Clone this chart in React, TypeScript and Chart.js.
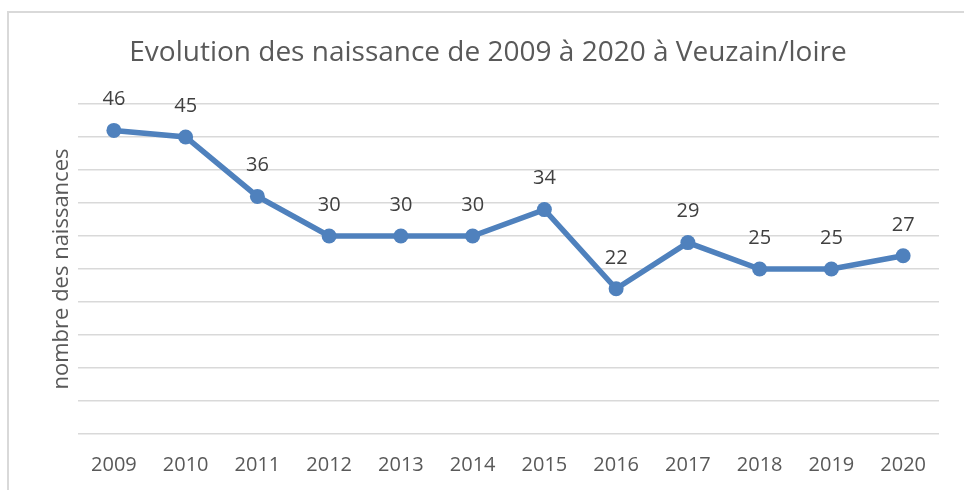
import React, { useEffect, useRef } from "react";
import { Chart, registerables } from "chart.js";

Chart.register(...registerables);

const years: string[] = ["2009", "2010", "2011", "2012", "2013", "2014", "2015", "2016", "2017", "2018", "2019", "2020"];
const births: number[] = [46, 45, 36, 30, 30, 30, 34, 22, 29, 25, 25, 27];
const titleText = "Evolution des naissance de 2009 à 2020 à Veuzain/loire";
const yTitle = "nombre des naissances";

const FONT = "'Open Sans', 'Liberation Sans', sans-serif";

const labelPlugin = {
  id: "pointLabels",
  afterDatasetsDraw(chart: any) {
    const ctx = chart.ctx;
    const meta = chart.getDatasetMeta(0);
    ctx.save();
    ctx.font = `20px ${FONT}`;
    ctx.fillStyle = "#404040";
    ctx.textAlign = "center";
    ctx.textBaseline = "middle";
    meta.data.forEach((pt: any, i: number) => {
      ctx.fillText(String(births[i]), pt.x, pt.y - 31);
    });
    ctx.restore();
  },
};

export default function App() {
  const ref = useRef<HTMLCanvasElement | null>(null);
  useEffect(() => {
    if (!ref.current) return;
    const chart = new Chart(ref.current, {
      type: "line",
      data: {
        labels: years,
        datasets: [
          {
            data: births,
            borderColor: "#4f81bd",
            backgroundColor: "#4f81bd",
            borderWidth: 5.5,
            pointRadius: 7.5,
            pointHoverRadius: 7.5,
            pointBackgroundColor: "#4f81bd",
            pointBorderWidth: 0,
            tension: 0,
          },
        ],
      },
      options: {
        responsive: false,
        animation: false,
        layout: { padding: { left: 37, right: 25, top: 0, bottom: 0 } },
        plugins: {
          legend: { display: false },
          tooltip: { enabled: false },
          title: {
            display: true,
            text: titleText,
            color: "#595959",
            font: { family: FONT, size: 28, weight: "normal", lineHeight: 1.2 },
            padding: { top: 36, bottom: 34.4 },
          },
        },
        scales: {
          x: {
            offset: true,
            grid: { display: false, drawTicks: false },
            border: { display: false },
            ticks: {
              color: "#595959",
              font: { family: FONT, size: 20 },
              padding: 19,
              maxRotation: 0,
              autoSkip: false,
            },
            afterFit: (s: any) => {
              s.height = 56;
            },
          },
          y: {
            min: 0,
            max: 50,
            grid: { color: "#d9d9d9", lineWidth: 1.5, drawTicks: false },
            border: { display: false },
            ticks: { display: false, stepSize: 5 },
            title: {
              display: true,
              text: yTitle,
              color: "#595959",
              font: { family: FONT, size: 22, weight: "normal" },
              padding: { top: 12, bottom: 0 },
            },
            afterFit: (s: any) => {
              s.width = 41;
            },
          },
        },
      },
      plugins: [labelPlugin],
    });
    return () => chart.destroy();
  }, []);

  return (
    <div style={{ position: "fixed", left: 0, top: 0, width: 964, height: 490, background: "#fff" }}>
      <div
        style={{
          position: "absolute",
          left: 7,
          top: 11,
          right: 0,
          bottom: 0,
          borderLeft: "2px solid #d9d9d9",
          borderTop: "2px solid #d9d9d9",
        }}
      />
      <canvas ref={ref} width={964} height={490} style={{ position: "absolute", left: 0, top: 0 }} />
    </div>
  );
}
